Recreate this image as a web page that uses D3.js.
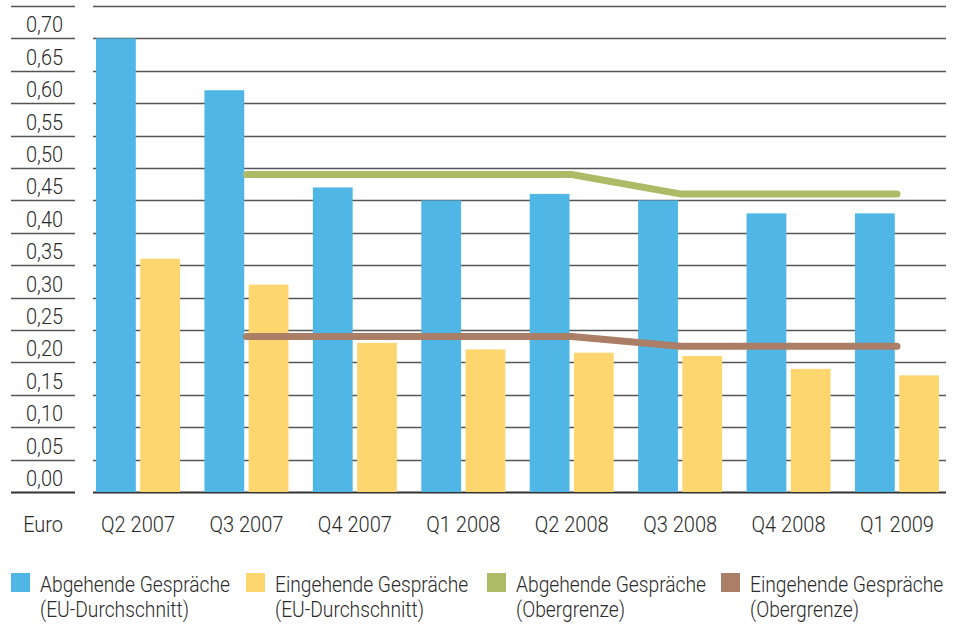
<!DOCTYPE html>
<html>
<head>
<meta charset="utf-8">
<script src="https://cdn.jsdelivr.net/npm/d3@7"></script>
<style>
  body { margin: 0; background: #fff; }
  svg text { font-family: Roboto, "Liberation Sans", Arial, sans-serif; font-weight: 300; fill: #2a2a2a; }
</style>
</head>
<body>
<div id="chart"></div>
<script>
// data
const quarters = ["Q2 2007", "Q3 2007", "Q4 2007", "Q1 2008", "Q2 2008", "Q3 2008", "Q4 2008", "Q1 2009"];
const outgoingAvg = [0.70, 0.62, 0.47, 0.45, 0.46, 0.45, 0.43, 0.43];
const incomingAvg = [0.36, 0.32, 0.23, 0.22, 0.215, 0.21, 0.19, 0.18];
const outgoingCap = [null, 0.49, 0.49, 0.49, 0.49, 0.46, 0.46, 0.46];
const incomingCap = [null, 0.24, 0.24, 0.24, 0.24, 0.225, 0.225, 0.225];
const yTicks = [0, 0.05, 0.10, 0.15, 0.20, 0.25, 0.30, 0.35, 0.40, 0.45, 0.50, 0.55, 0.60, 0.65, 0.70, 0.75];
const unitLabel = "Euro";
const legendItems = [
  ["Abgehende Gespräche", "(EU-Durchschnitt)"],
  ["Eingehende Gespräche", "(EU-Durchschnitt)"],
  ["Abgehende Gespräche", "(Obergrenze)"],
  ["Eingehende Gespräche", "(Obergrenze)"]
];

const colors = ["#4fb6e6", "#fed66f", "#adbb66", "#ab7e67"];
const width = 960, height = 624;

const svg = d3.select("#chart").append("svg")
  .attr("width", width)
  .attr("height", height);

let y = d3.scaleLinear().domain([0, 0.75]).range([492, 6]);

let x = d3.scaleBand()
  .domain(quarters)
  .range([96, 939])
  .paddingInner(0.225)
  .paddingOuter(0)
  .align(0);

let x1 = d3.scaleBand()
  .domain([0, 1])
  .range([0, x.bandwidth()])
  .paddingInner(0.1);

// gridlines: short piece under the labels and the long one under the plot
let grid = svg.append("g");
[[11, 75], [93, 946]].forEach(([a, b]) => {
  grid.append("g").selectAll("line")
    .data(yTicks)
    .enter().append("line")
      .attr("x1", a).attr("x2", b)
      .attr("y1", d => Math.round(y(d)) + 0.5)
      .attr("y2", d => Math.round(y(d)) + 0.5)
      .attr("stroke", d => d === 0 ? "#333" : "#555")
      .attr("stroke-width", d => d === 0 ? 2 : 1.3);
});

// y labels sit in the band above their gridline
svg.append("g")
  .selectAll("text")
  .data(yTicks.slice(0, -1))
  .enter().append("text")
    .attr("class", "tick")
    .attr("x", 63)
    .attr("y", d => y(d) - 6)
    .attr("text-anchor", "end")
    .style("font-size", "22px")
    .text(d => d.toFixed(2).replace(".", ","));

svg.append("text")
  .attr("class", "tick")
  .attr("x", 63)
  .attr("y", 532)
  .attr("text-anchor", "end")
  .style("font-size", "22px")
  .text(unitLabel);

// bars
let groups = svg.append("g")
  .selectAll("g")
  .data(quarters)
  .enter().append("g")
    .attr("transform", d => "translate(" + x(d) + ",0)");

groups.append("rect")
  .attr("x", x1(0))
  .attr("width", x1.bandwidth())
  .attr("y", (d, i) => y(outgoingAvg[i]))
  .attr("height", (d, i) => y(0) - y(outgoingAvg[i]))
  .attr("fill", colors[0]);

groups.append("rect")
  .attr("x", x1(1))
  .attr("width", x1.bandwidth())
  .attr("y", (d, i) => y(incomingAvg[i]))
  .attr("height", (d, i) => y(0) - y(incomingAvg[i]))
  .attr("fill", colors[1]);

// category labels
svg.append("g")
  .selectAll("text")
  .data(quarters)
  .enter().append("text")
    .attr("class", "cat")
    .attr("x", d => x(d) + x.bandwidth() / 2)
    .attr("y", 532)
    .attr("text-anchor", "middle")
    .style("font-size", "22px")
    .text(d => d);

// cap lines
let line = d3.line()
  .defined(d => d[1] !== null)
  .x(d => x(d[0]) + x.bandwidth() / 2)
  .y(d => y(d[1]));

[[outgoingCap, colors[2]], [incomingCap, colors[3]]].forEach(([vals, c]) => {
  svg.append("path")
    .datum(quarters.map((q, i) => [q, vals[i]]))
    .attr("d", line)
    .attr("fill", "none")
    .attr("stroke", c)
    .attr("stroke-width", 7)
    .attr("stroke-linecap", "round")
    .attr("stroke-linejoin", "round");
});

// legend
const legendX = [11, 246, 487, 721];
let legend = svg.append("g")
  .selectAll("g")
  .data(legendItems)
  .enter().append("g")
    .attr("transform", (d, i) => "translate(" + legendX[i] + ",573)");

legend.append("rect")
  .attr("width", 19)
  .attr("height", 19)
  .attr("fill", (d, i) => colors[i]);

legend.append("text")
  .attr("class", "leg")
  .attr("x", 29)
  .attr("y", 19)
  .style("font-size", "22px")
  .text(d => d[0]);

legend.append("text")
  .attr("class", "leg")
  .attr("x", 29)
  .attr("y", 44)
  .style("font-size", "22px")
  .text(d => d[1]);

// the original typeface is a narrow grotesk: squeeze each kind of text
// so one sample string gets the width measured on the reference
function squeeze(cls, sample, target) {
  let probe = svg.append("text").style("font-size", "22px").text(sample);
  let k = Math.min(1, target / probe.node().getComputedTextLength());
  probe.remove();
  svg.selectAll("text." + cls).each(function() {
    d3.select(this)
      .attr("textLength", this.getComputedTextLength() * k)
      .attr("lengthAdjust", "spacingAndGlyphs");
  });
}
squeeze("tick", "0,70", 37);
squeeze("cat", "Q2 2007", 74);
squeeze("leg", "Abgehende Gespräche", 190);
</script>
</body>
</html>
